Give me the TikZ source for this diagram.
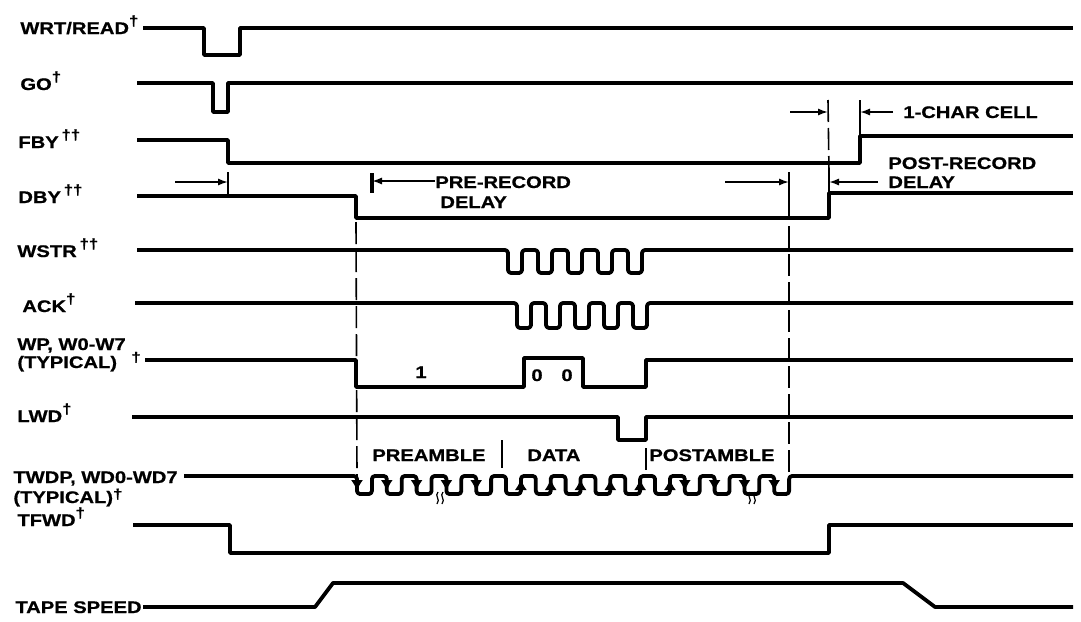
\documentclass[tikz,border=0pt]{standalone}
\usepackage{fontspec}
\setmainfont{Liberation Sans}[FakeStretch=1.2, BoldFeatures={FakeBold=0.8}]
\usetikzlibrary{arrows.meta, positioning, calc}
\newcommand{\onedag}{\raisebox{0.5em}{\fontsize{7}{7}\selectfont\textdagger}}
\newcommand{\twodag}{\raisebox{0.5em}{\fontsize{7}{7}\selectfont\textdagger\textdagger}}
\newcommand{\lowdag}{\raisebox{0.25em}{\fontsize{7}{7}\selectfont\textdagger}}

\begin{document}
\begin{tikzpicture}[x=0.5pt, y=-0.5pt,
  sig/.style={line width=1.9pt, line join=round},
  pulse/.style={sig, rounded corners=1.5pt},
  lab/.style={anchor=base west, inner sep=0pt, font=\fontsize{8.4}{9}\selectfont\bfseries},
  dim/.style={-{Latex[length=5pt,width=3.6pt]}, line width=0.9pt},
  bar/.style={line width=0.9pt},
  guide/.style={line width=0.8pt, dash pattern=on 11pt off 3pt},
  edgearr/.style={-{Latex[length=5.5pt,width=6pt]}, line width=0.8pt}
]
\useasboundingbox (0,0) rectangle (1081,621);

\node[lab] (wrt) at (20,34) {WRT/READ\onedag};
\node[lab] (go) at (20,90) {GO\onedag};
\node[lab] (fby) at (18,148) {FBY\,\twodag};
\node[lab] (dby) at (18,203) {DBY\,\twodag};
\node[lab] (wstr) at (17,257) {WSTR\,\twodag};
\node[lab] (ack) at (22,312) {ACK\onedag};
\node[lab] (wp) at (17,350) {WP, W0-W7};
\node[lab] (wptyp) at (17,368) {(TYPICAL)};
\node[lab] (wpdag) at (131,362) {\fontsize{7}{7}\selectfont\textdagger};
\node[lab] (lwd) at (17,422) {LWD\onedag};
\node[lab] (twdp) at (13,483) {TWDP, WD0-WD7};
\node[lab] (twtyp) at (13,503) {(TYPICAL)\lowdag};
\node[lab] (tfwd) at (17,526) {TFWD\onedag};
\node[lab] (tape) at (15,613) {TAPE SPEED};

\node[lab] (cell) at (903,118) {1-CHAR CELL};
\node[lab] (post) at (888,169) {POST-RECORD};
\node[lab] (postd) at (888,188) {DELAY};
\node[lab] (pre) at (435,188) {PRE-RECORD};
\node[lab] (pred) at (440,208) {DELAY};
\node[lab] (pream) at (372,461) {PREAMBLE};
\node[lab] (data) at (527,461) {DATA};
\node[lab] (postam) at (649,461) {POSTAMBLE};
\node[lab] (one) at (415,378) {1};
\node[lab] (zeroa) at (531,381) {0};
\node[lab] (zerob) at (561,381) {0};

\draw[sig] (143,28) -- (204,28) -- (204,55) -- (240,55) -- (240,28) -- (1073,28);
\draw[sig] (137,83) -- (213,83) -- (213,112) -- (228,112) -- (228,83) -- (1073,83);
\draw[sig] (137,140) -- (228,140) -- (228,163) -- (860,163) -- (860,136) -- (1073,136);
\draw[sig] (137,196) -- (356,196) -- (356,218) -- (829,218) -- (829,193) -- (1073,193);
\draw[pulse] (137,250) foreach \i in {0,...,4} { -- ({508+30*\i},250) -- ({508+30*\i},273) -- ({522+30*\i},273) -- ({522+30*\i},250) } -- (1073,250);
\draw[pulse] (135,303) foreach \i in {0,...,4} { -- ({517+29*\i},303) -- ({517+29*\i},328) -- ({531+29*\i},328) -- ({531+29*\i},303) } -- (1073,303);
\draw[sig] (145,360) -- (356,360) -- (356,387) -- (524,387) -- (524,358) -- (583,358) -- (583,387) -- (646,387) -- (646,360) -- (1073,360);
\draw[sig] (132,417) -- (618,417) -- (618,440) -- (646,440) -- (646,417) -- (1073,417);
\draw[pulse] (twdp.base east |- 0,476) ++(6,0) -- (357,476) foreach \k in {0,...,14} { -- ({357+2*\k*14.9},494) -- ({357+(2*\k+1)*14.9},494) -- ({357+(2*\k+1)*14.9},476) -- ({357+(2*\k+2)*14.9},476) } -- (1073,476);
\draw[sig] (133,525) -- (230,525) -- (230,553) -- (829,553) -- (829,525) -- (1073,525);
\draw[sig] (143,607) -- (315,607) -- (333,583) -- (903,583) -- (935,607) -- (1073,607);

\foreach \k in {0,2,4,6,8,22,24,26,28}
  \draw[edgearr] ({357+\k*14.9},476) -- ({357+\k*14.9},491);
\foreach \k in {11,13,15,17,19,21}
  \draw[edgearr] ({357+\k*14.9},494) -- ({357+\k*14.9},479);
\foreach \bx in {438,750} {
  \draw[line width=0.6pt] (\bx,492) .. controls (\bx-4,496) and (\bx+3,499) .. (\bx-1,504);
  \draw[line width=0.6pt] (\bx+5,492) .. controls (\bx+1,496) and (\bx+8,499) .. (\bx+4,504);
}
\draw[bar] (502,440) -- (502,468);
\draw[bar] (646,448) -- (646,470);

\coordinate (fbyfall) at (228,172);
\coordinate (fbyfallb) at (228,196);
\coordinate (prebar) at (372,173);
\coordinate (prebarb) at (372,193);
\coordinate (wend) at (789,172);
\coordinate (wendb) at (789,198);
\coordinate (twstart) at (357,476);
\coordinate (twend) at (789,476);
\coordinate (dbyrise) at (829,172);
\coordinate (dbyriseb) at (829,193);
\coordinate (celltop) at (828,100);
\coordinate (fbytop) at (860,100);

\draw[bar] (fbyfall) -- (fbyfallb);
\draw[dim] (175,182) -- (fbyfall |- 0,182);
\draw[line width=1.6pt] (prebar) -- (prebarb);
\draw[dim] (pre.west |- 0,181) -- (prebar |- 0,181);
\draw[bar] (wend) -- (wendb);
\draw[dim] (725,182) -- (wend |- 0,182);
\draw[bar] (dbyrise) -- (dbyriseb);
\draw[dim] (post.west |- 0,182) ++(-10,0) -- (dbyrise |- 0,182);
\draw[guide] (356,222) -- (twstart);
\draw[guide] (wendb) -- (twend);
\draw[guide] (celltop) -- (dbyrise);
\draw[bar] (fbytop) -- (860,136);
\draw[dim] (790,112) -- (celltop |- 0,112);
\draw[dim] (cell.west |- 0,112) ++(-10,0) -- (fbytop |- 0,112);
\end{tikzpicture}
\end{document}
